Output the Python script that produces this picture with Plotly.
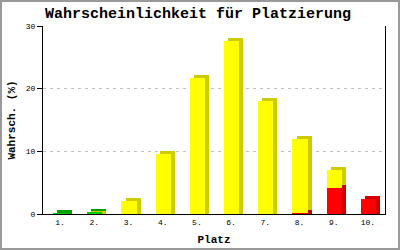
import plotly.graph_objects as go

places = ["1.", "2.", "3.", "4.", "5.", "6.", "7.", "8.", "9.", "10."]
red_vals = [0, 0, 0, 0, 0, 0, 0, 0.2, 4.1, 2.4]
yellow_vals = [0, 0.1, 2.1, 9.5, 21.7, 27.6, 18.0, 11.8, 2.9, 0]
green_vals = [0.1, 0.25, 0, 0, 0, 0, 0, 0, 0, 0]

series = [
    ("rot", red_vals, "#FF0000", "#CC0000"),
    ("gelb", yellow_vals, "#FFFF00", "#CCCC00"),
    ("grün", green_vals, "#00CC00", "#00A000"),
]

xpos = list(range(len(places)))
W = 0.44          # front face width (category units)
OFF = -0.205      # front face offset
DX = 0.12         # depth offset in x (category units)
DY = 0.5          # depth offset in y (data units)

fig = go.Figure()

bases = []
cum = [0.0] * len(places)
for name, vals, c, dc in series:
    bases.append(list(cum))
    cum = [a + b for a, b in zip(cum, vals)]

# depth (side + top) faces
for (name, vals, c, dc), base in zip(series, bases):
    sb, sh = [], []
    for v, b in zip(vals, base):
        if v <= 0:
            sb.append(0); sh.append(0)
            continue
        start = b + (DY if b > 0 else 0)
        sb.append(start)
        sh.append(b + v + DY - start)
    fig.add_trace(go.Bar(x=xpos, y=sh, base=sb, width=W, offset=OFF + DX,
                         marker=dict(color=dc, line=dict(width=0)),
                         showlegend=False, hoverinfo="skip"))

# front faces
for (name, vals, c, dc), base in zip(series, bases):
    fig.add_trace(go.Bar(x=xpos, y=vals, base=base, width=W, offset=OFF,
                         marker=dict(color=c, line=dict(width=0)),
                         name=name, showlegend=False))

mono = "Liberation Mono, DejaVu Sans Mono, monospace"
L, R, T, B = 43, 15, 26, 36
PW, PH = 400 - L - R, 250 - T - B

fig.update_layout(
    width=400, height=250,
    margin=dict(l=L, r=R, t=T, b=B, pad=0, autoexpand=False),
    paper_bgcolor="white", plot_bgcolor="white",
    barmode="overlay",
    bargap=0,
    title=dict(text="<b>Wahrscheinlichkeit für Platzierung</b>",
               font=dict(family=mono, size=15, color="black"),
               x=0.495, xanchor="center", y=1 - 13 / 250, yanchor="middle"),
    xaxis=dict(range=[-0.5, 9.5], tickvals=xpos, ticktext=places,
               showgrid=False, zeroline=False, showline=True, linecolor="black",
               linewidth=1, ticks="", automargin=False,
               tickfont=dict(family=mono, size=8, color="black"),
               title=dict(text="<b>Platz</b>", font=dict(family=mono, size=11, color="black"),
                          standoff=9)),
    yaxis=dict(range=[0, 30], tickvals=[0, 10, 20, 30], automargin=False,
               showgrid=True, gridcolor="#C0C0C0", griddash="3px,4px", gridwidth=1,
               zeroline=False, showline=True, linecolor="black", linewidth=1,
               mirror=True, ticks="outside", ticklen=5, tickcolor="black",
               tickfont=dict(family=mono, size=8, color="black"),
               title=dict(text="<b>Wahrsch. (%)</b>", font=dict(family=mono, size=11, color="black"),
                          standoff=7)),
)

fig.add_shape(type="rect", xref="paper", yref="paper",
              x0=(1 - L) / PW, x1=(399 - L) / PW,
              y0=-(249 - T - PH) / PH, y1=1 + (T - 1) / PH,
              line=dict(color="#999999", width=2), fillcolor="rgba(0,0,0,0)", layer="above")

fig.write_html("out.html")
